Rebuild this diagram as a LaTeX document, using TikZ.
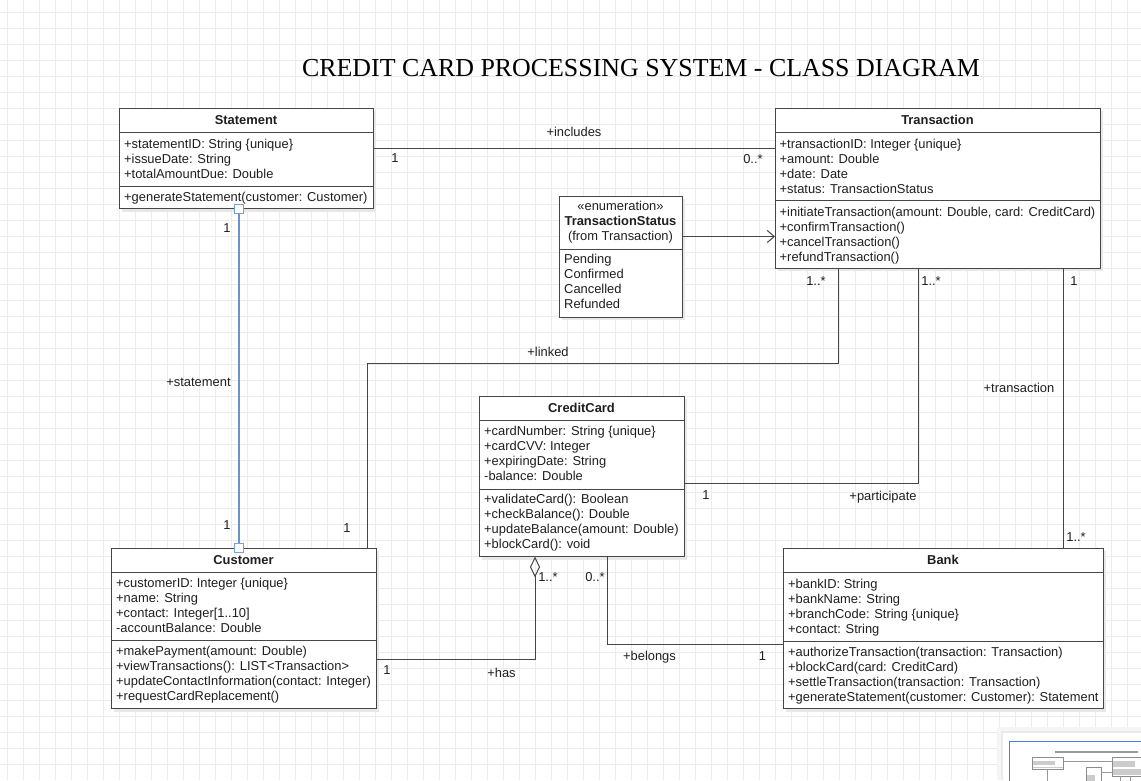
\documentclass[tikz,border=0pt]{standalone}
\usepackage{fontspec}
\setmainfont{Liberation Sans}
\newfontfamily\titlefont{Liberation Serif}
\usetikzlibrary{arrows.meta,shadows}
\definecolor{gridc}{RGB}{236,236,236}
\definecolor{linec}{RGB}{70,70,70}
\definecolor{selc}{RGB}{110,145,200}
\definecolor{handc}{RGB}{120,162,222}
\definecolor{mapc}{RGB}{70,130,230}
\newcommand\fz{\fontsize{12.9}{15}\selectfont}
\newcommand\rows[4]{\foreach \t [count=\i] in {#4} {\node[txt] (#1\i) at (#2,{#3+15*(\i-1)}) {\t};}}
\begin{document}
\begin{tikzpicture}[x=1pt,y=-1pt,
  umlbox/.style={draw=linec, line width=1pt, fill=white, anchor=north west, inner sep=0pt, outer sep=0pt,
    general shadow={fill=black!9, shadow xshift=3pt, shadow yshift=-3pt}},
  sepline/.style={draw=linec, line width=1pt},
  txt/.style={font=\fz, text=black!88, inner sep=0pt, anchor=base west, yshift=-4.3pt},
  ttl/.style={font=\fz\bfseries, text=black!88, inner sep=0pt, anchor=base, yshift=-4.3pt},
  ctr/.style={font=\fz, text=black!88, inner sep=0pt, anchor=base, yshift=-4.3pt},
  conn/.style={draw=linec, line width=1pt},
  selline/.style={draw=selc, line width=1.3pt},
  lbl/.style={font=\fz, text=black!88, inner sep=0pt, anchor=base, yshift=-4.3pt},
  handle/.style={draw=handc, fill=white, line width=1pt, minimum size=9pt, inner sep=0pt},
  mini/.style={draw=black!45, line width=0.2pt, fill=white}
]
% background grid
\fill[white] (0,0) rectangle (1141,780);
\useasboundingbox (0,0) rectangle (1141,780);
\begin{scope}
\clip (0,0) rectangle (1141,780);
\foreach \gx in {7,23,...,1140} \draw[gridc, line width=1pt] (\gx,0) -- (\gx,780);
\foreach \gy in {12,28,...,779} \draw[gridc, line width=1pt] (0,\gy) -- (1141,\gy);
\end{scope}

% title
\node[font=\titlefont\fontsize{25.9}{30}\selectfont, anchor=base, inner sep=0pt] (title) at (641,76.5)
  {CREDIT CARD PROCESSING SYSTEM - CLASS DIAGRAM};

% Statement
\node[umlbox, minimum width=254, minimum height=100.5] (statement) at (119,108) {};
\draw[sepline] (statement.west |- 0,132.5) -- (statement.east |- 0,132.5);
\draw[sepline] (statement.west |- 0,186) -- (statement.east |- 0,186);
\node[ttl] (statement-t) at (statement.north |- 0,120.5) {Statement};
\rows{st-a}{124}{144}{+statementID: String \{unique\}, +issueDate: String, +totalAmountDue: Double}
\rows{st-m}{124}{197.5}{+generateStatement(customer: Customer)}

% Transaction
\node[umlbox, minimum width=325, minimum height=160] (transaction) at (775,108) {};
\draw[sepline] (transaction.west |- 0,132.5) -- (transaction.east |- 0,132.5);
\draw[sepline] (transaction.west |- 0,200) -- (transaction.east |- 0,200);
\node[ttl] (transaction-t) at (transaction.north |- 0,120.5) {Transaction};
\rows{tr-a}{779.5}{144}{+transactionID: Integer \{unique\}, +amount: Double, +date: Date, +status: TransactionStatus}
\rows{tr-m}{779.5}{212}{{+initiateTransaction(amount: Double, card: CreditCard)}, +confirmTransaction(), +cancelTransaction(), +refundTransaction()}

% Enumeration
\node[umlbox, minimum width=123, minimum height=121] (enum) at (559,196) {};
\draw[sepline] (enum.west |- 0,249.5) -- (enum.east |- 0,249.5);
\node[ctr] (enum-s) at (enum.north |- 0,206.5) {«enumeration»};
\node[ttl] (enum-t) at (enum.north |- 0,221.5) {TransactionStatus};
\node[ctr] (enum-f) at (enum.north |- 0,236.5) {(from Transaction)};
\rows{en-v}{564}{259.5}{Pending, Confirmed, Cancelled, Refunded}

% CreditCard
\node[umlbox, minimum width=205, minimum height=160.5] (creditcard) at (479,396) {};
\draw[sepline] (creditcard.west |- 0,420) -- (creditcard.east |- 0,420);
\draw[sepline] (creditcard.west |- 0,489) -- (creditcard.east |- 0,489);
\node[ttl] (creditcard-t) at (creditcard.north |- 0,408) {CreditCard};
\rows{cc-a}{484}{431.5}{+cardNumber: String \{unique\}, +cardCVV: Integer, +expiringDate: String, -balance: Double}
\rows{cc-m}{484}{499}{+validateCard(): Boolean, +checkBalance(): Double, +updateBalance(amount: Double), +blockCard(): void}

% Customer
\node[umlbox, minimum width=265, minimum height=160.5] (customer) at (111,548) {};
\draw[sepline] (customer.west |- 0,572.5) -- (customer.east |- 0,572.5);
\draw[sepline] (customer.west |- 0,640.5) -- (customer.east |- 0,640.5);
\node[ttl] (customer-t) at (customer.north |- 0,560.5) {Customer};
\rows{cu-a}{116}{583.5}{+customerID: Integer \{unique\}, +name: String, +contact: Integer[1..10], -accountBalance: Double}
\rows{cu-m}{116}{651.5}{+makePayment(amount: Double), +viewTransactions(): LIST<Transaction>, +updateContactInformation(contact: Integer), +requestCardReplacement()}

% Bank
\node[umlbox, minimum width=320, minimum height=160.5] (bank) at (783,548) {};
\draw[sepline] (bank.west |- 0,572.5) -- (bank.east |- 0,572.5);
\draw[sepline] (bank.west |- 0,641) -- (bank.east |- 0,641);
\node[ttl] (bank-t) at (bank.north |- 0,560.5) {Bank};
\rows{bk-a}{788}{584}{+bankID: String, +bankName: String, +branchCode: String \{unique\}, +contact: String}
\rows{bk-m}{788}{652}{+authorizeTransaction(transaction: Transaction), +blockCard(card: CreditCard), +settleTransaction(transaction: Transaction), +generateStatement(customer: Customer): Statement}

% connectors
\draw[conn] (statement.east |- 0,148) -- (transaction.west |- 0,148);
\draw[conn, -{Straight Barb[length=7pt, width=12pt]}] (enum.east |- 0,236.5) -- (transaction.west |- 0,236.5);
\coordinate (lk) at (838,363.5);
\draw[conn] (customer.north -| 367,0) |- (lk) -- (transaction.south -| lk);
\draw[conn] (creditcard.east |- 0,483) -| (transaction.south -| 918.5,0);
\draw[conn] (transaction.south -| 1063,0) -- (bank.north -| 1063,0);
\draw[conn, -{Diamond[open, length=21pt, width=10pt]}] (customer.east |- 0,659.5) -| (creditcard.south -| 535,0);
\draw[conn] (creditcard.south -| 607,0) |- (bank.west |- 0,644);
\draw[selline] (statement.south -| 239,0) -- (customer.north -| 239,0);
\node[handle] (hs) at (statement.south -| 239,0) {};
\node[handle] (hc) at (customer.north -| 239,0) {};

% labels
\node[lbl] (l1) at (574,132) {+includes};
\node[lbl] (l2) at (395,158) {1};
\node[lbl] (l3) at (753,159) {0..*};
\node[lbl] (l4) at (227,228) {1};
\node[lbl] (l5) at (198.5,382) {+statement};
\node[lbl] (l6) at (227,525) {1};
\node[lbl] (l7) at (347,528) {1};
\node[lbl] (l8) at (548,352.5) {+linked};
\node[lbl] (l9) at (816,281.5) {1..*};
\node[lbl] (l10) at (931,281.5) {1..*};
\node[lbl] (l11) at (1074,281.5) {1};
\node[lbl] (l12) at (1019,388.5) {+transaction};
\node[lbl] (l13) at (706,495) {1};
\node[lbl] (l14) at (883,496) {+participate};
\node[lbl] (l15) at (1076,537.5) {1..*};
\node[lbl] (l16) at (548,577.5) {1..*};
\node[lbl] (l17) at (595,577.5) {0..*};
\node[lbl] (l18) at (387,670.5) {1};
\node[lbl] (l19) at (501.5,673.5) {+has};
\node[lbl] (l20) at (649.5,656.5) {+belongs};
\node[lbl] (l21) at (762.5,656) {1};

% minimap panel
\fill[black!4] (997,727) rectangle (1141,780);
\fill[black!8] (1000.5,730.5) rectangle (1141,780);
\fill[white] (1003,733) rectangle (1141,780);
\begin{scope}
\clip (1003,733) rectangle (1141,780);
\draw[mapc, line width=1pt] (1009.5,741.5) rectangle (1170,800);
\begin{scope}[shift={(1018,743.5)}, scale=0.122]
\fill[black!40] (300,64) rectangle (980,74);
\foreach \a/\b/\c/\d in {119/108/373/208, 775/108/1100/268, 559/196/682/317, 479/396/684/556, 111/548/376/708, 783/548/1103/708}
  \draw[mini] (\a,\b) rectangle (\c,\d);
\draw[black!40, line width=0.2pt] (373,148) -- (775,148) (682,236) -- (775,236) (239,208) -- (239,548)
  (684,483) -| (918,268) (367,548) |- (838,363) -- (838,268) (1063,268) -- (1063,548);
\foreach \a/\b/\c/\d in {124/140/300/176, 124/194/368/200, 780/140/960/191, 780/208/1095/259, 564/255/630/308}
  \fill[black!20] (\a,\b) rectangle (\c,\d);
\end{scope}
\end{scope}
\end{tikzpicture}
\end{document}
